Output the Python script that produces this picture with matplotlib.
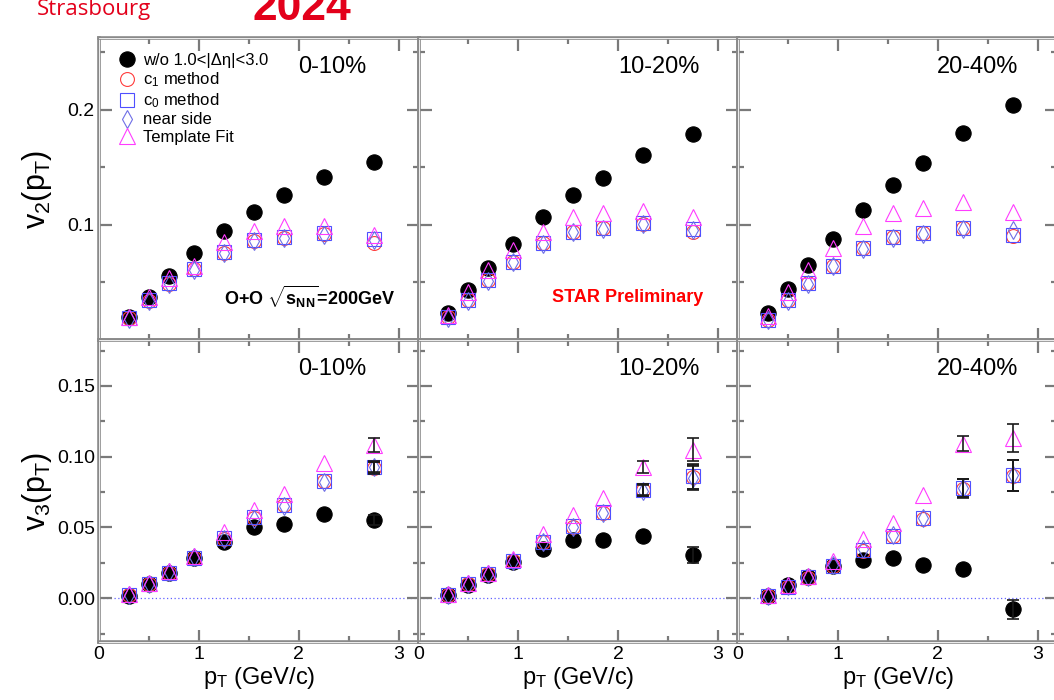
import matplotlib
matplotlib.use("Agg")
import numpy as np
import matplotlib.pyplot as plt
import matplotlib.patheffects as pe
from matplotlib.ticker import MultipleLocator, FormatStrFormatter

plt.rcParams['font.family'] = ['Liberation Sans', 'DejaVu Sans']
plt.rcParams['mathtext.fontset'] = 'custom'
plt.rcParams['mathtext.rm'] = 'Liberation Sans'
plt.rcParams['mathtext.it'] = 'Liberation Sans'
plt.rcParams['mathtext.bf'] = 'Liberation Sans:bold'

# pT bin centres (GeV/c)
pt = [0.3, 0.5, 0.7, 0.95, 1.25, 1.55, 1.85, 2.25, 2.75]
centralities = ["0-10%", "10-20%", "20-40%"]

# v2(pT), one row per centrality class
v2_wo = [[0.0197, 0.0377, 0.0557, 0.0759, 0.0948, 0.1116, 0.1265, 0.1420, 0.1545],
         [0.0232, 0.0435, 0.0623, 0.0832, 0.1072, 0.1263, 0.1412, 0.1609, 0.1791],
         [0.0232, 0.0441, 0.0652, 0.0878, 0.1130, 0.1348, 0.1536, 0.1803, 0.2043]]
v2_c1 = [[0.0190, 0.0340, 0.0490, 0.0615, 0.0760, 0.0860, 0.0890, 0.0920, 0.0840],
         [0.0200, 0.0345, 0.0520, 0.0680, 0.0840, 0.0940, 0.0970, 0.1010, 0.0940],
         [0.0172, 0.0345, 0.0495, 0.0645, 0.0800, 0.0895, 0.0930, 0.0970, 0.0900]]
v2_c0 = [[0.0190, 0.0350, 0.0495, 0.0618, 0.0768, 0.0870, 0.0899, 0.0928, 0.0876],
         [0.0203, 0.0348, 0.0522, 0.0681, 0.0841, 0.0942, 0.0971, 0.1014, 0.0962],
         [0.0174, 0.0348, 0.0498, 0.0643, 0.0797, 0.0893, 0.0928, 0.0971, 0.0913]]
v2_near = [[0.0185, 0.0340, 0.0488, 0.0610, 0.0760, 0.0860, 0.0890, 0.0910, 0.0870],
           [0.0195, 0.0340, 0.0515, 0.0675, 0.0835, 0.0935, 0.0965, 0.1005, 0.0955],
           [0.0170, 0.0340, 0.0490, 0.0640, 0.0795, 0.0890, 0.0925, 0.0965, 0.0960]]
v2_tmpl = [[0.0200, 0.0375, 0.0540, 0.0646, 0.0852, 0.0948, 0.0993, 0.0993, 0.0916],
           [0.0220, 0.0420, 0.0609, 0.0783, 0.0942, 0.1072, 0.1107, 0.1125, 0.1072],
           [0.0210, 0.0420, 0.0609, 0.0797, 0.0991, 0.1107, 0.1145, 0.1203, 0.1116]]

# v3(pT)
v3_wo = [[0.0018, 0.0101, 0.0181, 0.0287, 0.0400, 0.0500, 0.0526, 0.0597, 0.0554],
         [0.0023, 0.0094, 0.0165, 0.0259, 0.0347, 0.0408, 0.0413, 0.0436, 0.0306],
         [0.0012, 0.0094, 0.0153, 0.0229, 0.0271, 0.0287, 0.0236, 0.0205, -0.0078]]
v3_c1 = [[0.0020, 0.0100, 0.0178, 0.0282, 0.0420, 0.0565, 0.0655, 0.0825, 0.0920],
         [0.0022, 0.0100, 0.0170, 0.0262, 0.0398, 0.0505, 0.0605, 0.0765, 0.0855],
         [0.0012, 0.0080, 0.0145, 0.0228, 0.0335, 0.0440, 0.0560, 0.0775, 0.0865]]
v3_c0 = [[0.0020, 0.0100, 0.0180, 0.0285, 0.0425, 0.0571, 0.0656, 0.0825, 0.0924],
         [0.0023, 0.0101, 0.0172, 0.0264, 0.0400, 0.0507, 0.0606, 0.0766, 0.0860],
         [0.0013, 0.0082, 0.0146, 0.0230, 0.0342, 0.0441, 0.0566, 0.0778, 0.0868]]
v3_near = [[0.0022, 0.0102, 0.0182, 0.0288, 0.0418, 0.0560, 0.0650, 0.0820, 0.0930],
           [0.0024, 0.0102, 0.0174, 0.0266, 0.0395, 0.0500, 0.0600, 0.0760, 0.0850],
           [0.0015, 0.0085, 0.0148, 0.0232, 0.0345, 0.0445, 0.0570, 0.0780, 0.0870]]
v3_tmpl = [[0.0030, 0.0110, 0.0190, 0.0300, 0.0471, 0.0625, 0.0738, 0.0955, 0.1085],
           [0.0030, 0.0105, 0.0180, 0.0280, 0.0455, 0.0590, 0.0708, 0.0927, 0.1050],
           [0.0020, 0.0095, 0.0160, 0.0260, 0.0417, 0.0530, 0.0731, 0.1092, 0.1132]]

# statistical errors on v3
v3_wo_err = [[0.0004, 0.0004, 0.0005, 0.0006, 0.0008, 0.0010, 0.0013, 0.0018, 0.0035],
             [0.0004, 0.0005, 0.0006, 0.0007, 0.0010, 0.0013, 0.0016, 0.0025, 0.0055],
             [0.0005, 0.0005, 0.0006, 0.0008, 0.0011, 0.0014, 0.0018, 0.0028, 0.0068]]
v3_sub_err = [[0.0005, 0.0005, 0.0006, 0.0008, 0.0010, 0.0013, 0.0016, 0.0022, 0.0040],
              [0.0006, 0.0006, 0.0008, 0.0010, 0.0013, 0.0017, 0.0022, 0.0040, 0.0085],
              [0.0007, 0.0008, 0.0009, 0.0012, 0.0016, 0.0020, 0.0028, 0.0065, 0.0110]]
v3_tmpl_err = [[0.0005, 0.0005, 0.0006, 0.0008, 0.0011, 0.0014, 0.0018, 0.0030, 0.0050],
               [0.0006, 0.0007, 0.0008, 0.0010, 0.0014, 0.0018, 0.0024, 0.0045, 0.0080],
               [0.0007, 0.0008, 0.0010, 0.0013, 0.0017, 0.0022, 0.0030, 0.0055, 0.0100]]

legend_labels = [u"w/o 1.0<|\u0394\u03b7|<3.0", r"c$_1$ method", r"c$_0$ method",
                 "near side", "Template Fit"]

RED = '#ff3d3d'
BLUE = '#4f4fff'
SLATE = '#6e6ee6'
MAGENTA = '#ff3cff'
LOGO_RED = '#e3001b'

# errors smaller than this are hidden under the markers anyway
ERR_MIN = 0.0034

styles = [
    dict(marker='o', ms=11, mfc='black', mec='black', mew=0.8),
    dict(marker='o', ms=10, mfc='none', mec=RED, mew=0.8),
    dict(marker='s', ms=10, mfc='none', mec=BLUE, mew=0.8),
    dict(marker='d', ms=9, mfc='none', mec=SLATE, mew=0.8),
    dict(marker='^', ms=11, mfc='none', mec=MAGENTA, mew=0.8),
]


def style_axes(ax, row, col):
    ax.set_xlim(0, 3.2)
    if row == 0:
        ax.set_ylim(0.0, 0.2626)
        ax.yaxis.set_major_locator(MultipleLocator(0.1))
        ax.yaxis.set_minor_locator(MultipleLocator(0.05))
        ax.yaxis.set_major_formatter(FormatStrFormatter('%.1f'))
    else:
        ax.set_ylim(-0.031, 0.1825)
        ax.yaxis.set_major_locator(MultipleLocator(0.05))
        ax.yaxis.set_minor_locator(MultipleLocator(0.025))
        ax.yaxis.set_major_formatter(FormatStrFormatter('%.2f'))
    ax.xaxis.set_major_locator(MultipleLocator(1))
    ax.xaxis.set_minor_locator(MultipleLocator(0.5))
    ax.tick_params(which='both', direction='in', top=True, right=True,
                   color='#7a7a7a', width=1.6, labelsize=14, pad=3)
    ax.tick_params(which='major', length=9)
    ax.tick_params(which='minor', length=4.5)
    if row == 0:
        ax.tick_params(labelbottom=False)
        if col == 0:
            ax.set_yticks([0.1, 0.2])
    if col > 0:
        ax.tick_params(labelleft=False)
    # grey double-line frame
    for sp in ax.spines.values():
        sp.set_color('white')
        sp.set_linewidth(0.6)
        sp.set_path_effects([pe.Stroke(linewidth=2.6, foreground='#8a8a8a'), pe.Normal()])


fig = plt.figure(figsize=(10.54, 7.0), dpi=100)
lefts = [0.09393, 0.39706, 0.70019]
bottoms = [0.51429, 0.08286]
w, h = 0.30313, 0.43143

for row in range(2):
    for col in range(3):
        ax = fig.add_axes([lefts[col], bottoms[row], w, h])
        style_axes(ax, row, col)

        if row == 0:
            series = [v2_wo[col], v2_c1[col], v2_c0[col], v2_near[col], v2_tmpl[col]]
        else:
            series = [v3_wo[col], v3_c1[col], v3_c0[col], v3_near[col], v3_tmpl[col]]
            ax.axhline(0, color='#6060ff', lw=0.9, ls=(0, (1, 2)), zorder=1)
            errs = [v3_wo_err[col], v3_sub_err[col], v3_sub_err[col],
                    v3_sub_err[col], v3_tmpl_err[col]]
            for vals, err in zip(series, errs):
                x = np.array(pt)
                y = np.array(vals)
                e = np.array(err)
                big = e >= ERR_MIN
                ax.errorbar(x[big], y[big], yerr=e[big], fmt='none', ecolor='#1a1a1a',
                            elinewidth=1.2, capsize=4, capthick=1.2, zorder=4)

        handles = []
        for vals, st, lab in zip(series, styles, legend_labels):
            line, = ax.plot(pt, vals, ls='none', label=lab, zorder=3, **st)
            handles.append(line)

        ax.text(0.624, 0.905, centralities[col], transform=ax.transAxes,
                ha='left', va='center', fontsize=17)

        if col == 0:
            ax.set_ylabel(r'$v_2(p_T)$' if row == 0 else r'$v_3(p_T)$', fontsize=22)
            ax.yaxis.set_label_coords(-0.14, 0.5)
        if row == 1:
            ax.set_xlabel(r'$p_T$ (GeV/c)', fontsize=17)
            ax.xaxis.set_label_coords(0.5, -0.075)

        if row == 0 and col == 0:
            ax.legend(handles=handles, loc='upper left', bbox_to_anchor=(0.06, 0.95),
                      frameon=False, fontsize=12, handlelength=1.0, handletextpad=0.5,
                      labelspacing=0.14, borderpad=0, borderaxespad=0)
            ax.text(0.658, 0.142, r'O+O $\sqrt{\mathbf{s}_{\mathbf{NN}}}$=200GeV',
                    transform=ax.transAxes, ha='center', va='center',
                    fontsize=13, fontweight='bold')
        if row == 0 and col == 1:
            ax.text(0.654, 0.142, 'STAR Preliminary', transform=ax.transAxes,
                    ha='center', va='center', fontsize=13, fontweight='bold', color='red')

# conference banner along the top edge
fig.text(37 / 1054, 1 - 15 / 700, 'Strasbourg', color=LOGO_RED, fontsize=16,
         family='Open Sans', va='baseline', ha='left')
fig.text(252 / 1054, 1 - 20 / 700, '2024', color=LOGO_RED, fontsize=32,
         fontweight='bold', va='baseline', ha='left')

fig.savefig('out.png', dpi=100)
